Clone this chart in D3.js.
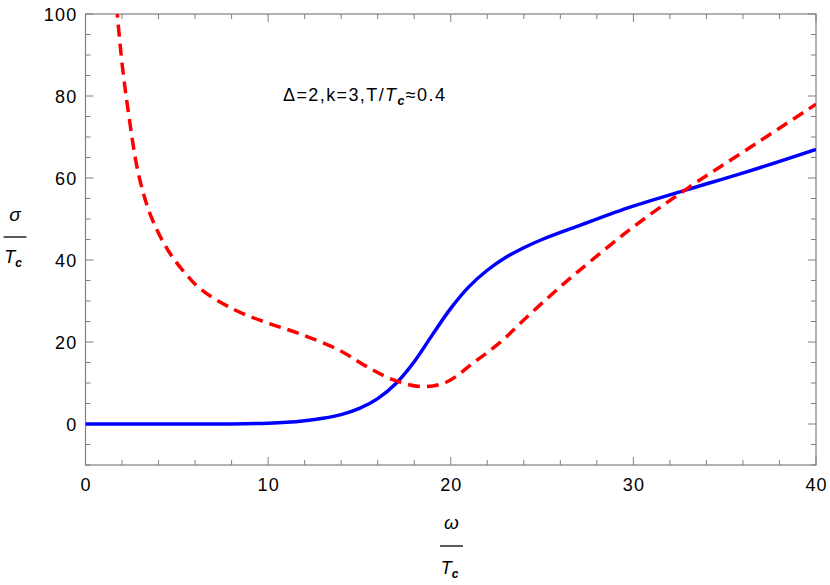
<!DOCTYPE html>
<html><head><meta charset="utf-8">
<script src="https://cdn.jsdelivr.net/npm/d3@7"></script>
<style>body{margin:0;background:#fff}svg{display:block}text{font-family:"Liberation Sans",Arial,sans-serif}</style>
</head><body><svg id="c" width="830" height="585"></svg>
<script>
const redW = [1.7,2.0,2.35,2.9,3.6,4.5,5.45,6.36,8.19,10.0,11.8,13.9,15.4,16.9,18.5,19.8,21.2,22.7,24.2,25.6,26.9,29.8,32.9,36.2,40];
const redV = [102,88,76,61,50.5,42.5,36.8,32.7,27.8,24.6,21.9,18.0,14.0,10.7,9.1,10.3,14.8,19.9,26.2,31.9,36.9,47.4,57.3,66.9,78.0];
const blueW = [0,2,4,6,8,10,11,12,13,14,15,16,17,18,19,20,21,22,23,24,25,27.1,29.9,32.9,36.2,40];
const blueV = [0,0,0,0,0.03,0.2,0.4,0.8,1.4,2.3,3.8,6.2,9.9,15.2,21.8,28.2,33.5,37.5,40.6,43.0,45.0,48.5,53.0,57.1,61.5,67.0];
const xTicks = [0,10,20,30,40];
const yTicks = [0,20,40,60,80,100];

const svg = d3.select("#c");
const L=85.5, R=816, T=14, B=465;
const x = d3.scaleLinear().domain([0,40]).range([L,R]);
const y = d3.scaleLinear().domain([-10,100]).range([B,T]);
const grey="#808080";

svg.append("defs").append("clipPath").attr("id","clip").append("rect")
  .attr("x",L).attr("y",T).attr("width",R-L).attr("height",B-T);

// ticks
const g = svg.append("g").attr("stroke",grey).attr("stroke-width",1);
d3.range(0,40.01,2).forEach(v=>{
  const major = v%10===0, len = major?8:5;
  g.append("line").attr("x1",x(v)).attr("x2",x(v)).attr("y1",B).attr("y2",B-len);
  g.append("line").attr("x1",x(v)).attr("x2",x(v)).attr("y1",T).attr("y2",T+len);
});
d3.range(-10,100.01,5).forEach(v=>{
  const major = v%20===0, len = major?8:5;
  g.append("line").attr("y1",y(v)).attr("y2",y(v)).attr("x1",L).attr("x2",L+len);
  g.append("line").attr("y1",y(v)).attr("y2",y(v)).attr("x1",R).attr("x2",R-len);
});
svg.append("rect").attr("x",L).attr("y",T).attr("width",R-L).attr("height",B-T)
  .attr("fill","none").attr("stroke",grey).attr("stroke-width",1.2);

// tick labels
svg.append("g").selectAll("text").data(xTicks).join("text")
  .attr("x",d=>x(d)+0.6).attr("y",491).attr("text-anchor","middle")
  .attr("font-size",18).attr("letter-spacing",1.2).text(d=>d);
svg.append("g").selectAll("text").data(yTicks).join("text")
  .attr("x",77.5).attr("y",d=>y(d)+6.5).attr("text-anchor","end")
  .attr("font-size",18).attr("letter-spacing",1.2).text(d=>d);

const line = d3.line().x(d=>x(d[0])).y(d=>y(d[1])).curve(d3.curveCatmullRom.alpha(0.5));
const cg = svg.append("g").attr("clip-path","url(#clip)");
cg.append("path").datum(blueW.map((w,i)=>[w,blueV[i]])).attr("d",line)
  .attr("fill","none").attr("stroke","#0000ff").attr("stroke-width",3.5);
cg.append("path").datum(redW.map((w,i)=>[w,redV[i]])).attr("d",line)
  .attr("fill","none").attr("stroke","#ff0000").attr("stroke-width",3.5)
  .attr("stroke-dasharray","12,7");

// annotation
const ann = svg.append("text").attr("x",283).attr("y",101).attr("font-size",18).attr("letter-spacing",1.4);
ann.append("tspan").text("Δ=2,k=3,T/");
ann.append("tspan").attr("font-style","italic").text("T");
ann.append("tspan").attr("font-style","italic").attr("font-weight","bold").attr("font-size",12.5).attr("dy",4).text("c");
ann.append("tspan").attr("dy",-4).text("≈0.4");

// axis labels
function frac(cx, topY, lineY, botY, num){
  svg.append("text").attr("x",cx).attr("y",topY).attr("text-anchor","middle")
    .attr("font-size",19).attr("font-style","italic").text(num);
  svg.append("line").attr("x1",cx-11.5).attr("x2",cx+11.5).attr("y1",lineY).attr("y2",lineY)
    .attr("stroke","#000").attr("stroke-width",1.3);
  const t = svg.append("text").attr("x",cx-2).attr("y",botY).attr("text-anchor","middle")
    .attr("font-size",18).attr("font-style","italic");
  t.append("tspan").text("T");
  t.append("tspan").attr("font-size",12).attr("font-weight","bold").attr("dy",4).text("c");
}
frac(15, 221, 237, 263, "σ");
frac(451.5, 529, 546, 574, "ω");
</script></body></html>
